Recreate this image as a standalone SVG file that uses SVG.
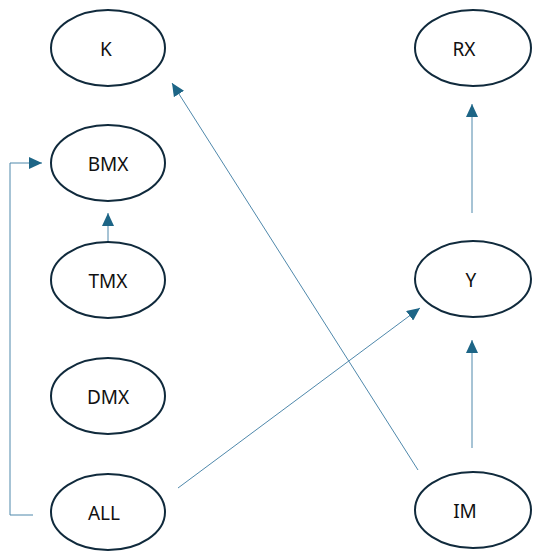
<svg xmlns="http://www.w3.org/2000/svg" width="540" height="558" viewBox="0 0 540 558">
  <defs>
    <marker id="arrow" markerUnits="userSpaceOnUse" markerWidth="14" markerHeight="12" refX="13" refY="6" orient="auto">
      <path d="M0,0 L13,6 L0,12 Z" fill="#1d6586"/>
    </marker>
    <style>
      .node ellipse { fill: #ffffff; stroke: #102a3c; stroke-width: 2; }
      .node text { font-family: "Noto Sans", "Liberation Sans", sans-serif; font-size: 19px; fill: #111111; text-anchor: middle; dominant-baseline: central; }
      .edge { fill: none; stroke: #4f88ab; stroke-width: 1; marker-end: url(#arrow); }
    </style>
  </defs>
  <rect width="540" height="558" fill="#ffffff"/>

  <!-- edges -->
  <g id="connectors">
    <path class="edge" d="M108,242 L108,213"/>
    <path class="edge" d="M33,515 L10,515 L10,163 L42,163"/>
    <path class="edge" d="M418,470 L172,83"/>
    <path class="edge" d="M178,488 L420,308"/>
    <path class="edge" d="M472,213 L472,104"/>
    <path class="edge" d="M472,448 L472,340"/>
  </g>

  <!-- nodes -->
  <g id="K" class="node"><ellipse cx="108" cy="48" rx="57" ry="38"/><text x="106" y="49">K</text></g>
  <g id="BMX" class="node"><ellipse cx="108" cy="163" rx="57" ry="38"/><text x="108" y="164">BMX</text></g>
  <g id="TMX" class="node"><ellipse cx="108" cy="280" rx="57" ry="38"/><text x="108" y="281">TMX</text></g>
  <g id="DMX" class="node"><ellipse cx="108" cy="396" rx="57" ry="38"/><text x="108" y="397">DMX</text></g>
  <g id="ALL" class="node"><ellipse cx="108" cy="512" rx="57" ry="38"/><text x="104" y="513">ALL</text></g>
  <g id="RX" class="node"><ellipse cx="473" cy="48" rx="58" ry="38"/><text x="464" y="49">RX</text></g>
  <g id="Y" class="node"><ellipse cx="473" cy="279" rx="58" ry="38"/><text x="471" y="280">Y</text></g>
  <g id="IM" class="node"><ellipse cx="473" cy="510" rx="58" ry="38"/><text x="465" y="511">IM</text></g>
</svg>
